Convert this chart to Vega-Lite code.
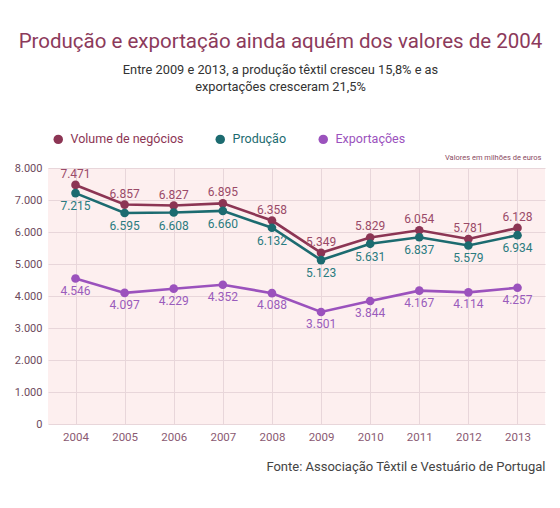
{
  "$schema": "https://vega.github.io/schema/vega-lite/v6.json",
  "width": 497,
  "height": 256,
  "autosize": {"type": "none"},
  "padding": {"left": 48, "top": 168, "right": 15, "bottom": 84},
  "background": "white",
  "config": {
    "font": "Roboto",
    "view": {"fill": "#fdefef", "stroke": null}
  },
  "title": {
    "text": "Produção e exportação ainda aquém dos valores de 2004",
    "subtitle": ["Entre 2009 e 2013, a produção têxtil cresceu 15,8% e as", "exportações cresceram 21,5%"],
    "anchor": "middle",
    "dx": -16,
    "font": "Roboto",
    "fontSize": 20.5,
    "fontWeight": "normal",
    "color": "#8c3a5b",
    "subtitleFont": "Roboto",
    "subtitleFontSize": 12.8,
    "subtitleColor": "#333333",
    "subtitleLineHeight": 17,
    "subtitlePadding": 12,
    "offset": 39
  },
  "data": {
    "values": [
      {"year": "2004", "series": "Volume de negócios", "value": 7471, "label": "7.471"},
      {"year": "2005", "series": "Volume de negócios", "value": 6857, "label": "6.857"},
      {"year": "2006", "series": "Volume de negócios", "value": 6827, "label": "6.827"},
      {"year": "2007", "series": "Volume de negócios", "value": 6895, "label": "6.895"},
      {"year": "2008", "series": "Volume de negócios", "value": 6358, "label": "6.358"},
      {"year": "2009", "series": "Volume de negócios", "value": 5349, "label": "5.349"},
      {"year": "2010", "series": "Volume de negócios", "value": 5829, "label": "5.829"},
      {"year": "2011", "series": "Volume de negócios", "value": 6054, "label": "6.054"},
      {"year": "2012", "series": "Volume de negócios", "value": 5781, "label": "5.781"},
      {"year": "2013", "series": "Volume de negócios", "value": 6128, "label": "6.128"},
      {"year": "2004", "series": "Produção", "value": 7215, "label": "7.215"},
      {"year": "2005", "series": "Produção", "value": 6595, "label": "6.595"},
      {"year": "2006", "series": "Produção", "value": 6608, "label": "6.608"},
      {"year": "2007", "series": "Produção", "value": 6660, "label": "6.660"},
      {"year": "2008", "series": "Produção", "value": 6132, "label": "6.132"},
      {"year": "2009", "series": "Produção", "value": 5123, "label": "5.123"},
      {"year": "2010", "series": "Produção", "value": 5631, "label": "5.631"},
      {"year": "2011", "series": "Produção", "value": 5837, "label": "6.837"},
      {"year": "2012", "series": "Produção", "value": 5579, "label": "5.579"},
      {"year": "2013", "series": "Produção", "value": 5900, "label": "6.934"},
      {"year": "2004", "series": "Exportações", "value": 4546, "label": "4.546"},
      {"year": "2005", "series": "Exportações", "value": 4097, "label": "4.097"},
      {"year": "2006", "series": "Exportações", "value": 4229, "label": "4.229"},
      {"year": "2007", "series": "Exportações", "value": 4352, "label": "4.352"},
      {"year": "2008", "series": "Exportações", "value": 4088, "label": "4.088"},
      {"year": "2009", "series": "Exportações", "value": 3501, "label": "3.501"},
      {"year": "2010", "series": "Exportações", "value": 3844, "label": "3.844"},
      {"year": "2011", "series": "Exportações", "value": 4167, "label": "4.167"},
      {"year": "2012", "series": "Exportações", "value": 4114, "label": "4.114"},
      {"year": "2013", "series": "Exportações", "value": 4257, "label": "4.257"}
    ]
  },
  "encoding": {
    "x": {
      "field": "year",
      "type": "ordinal",
      "scale": {"type": "point", "padding": 0.56},
      "axis": {
        "title": "Fonte: Associação Têxtil e Vestuário de Portugal",
        "titleAnchor": "end",
        "titleFont": "Roboto",
        "titleFontSize": 13,
        "titleFontWeight": "normal",
        "titleColor": "#444444",
        "titlePadding": 18,
        "labelAngle": 0,
        "labelFont": "Roboto",
        "labelFontSize": 11.5,
        "labelColor": "#8a5a72",
        "labelPadding": 7,
        "domain": false,
        "ticks": false,
        "grid": true,
        "gridColor": "#e8d6da",
        "gridWidth": 1
      }
    },
    "y": {
      "field": "value",
      "type": "quantitative",
      "scale": {"domain": [0, 8000], "nice": false},
      "axis": {
        "values": [0, 1000, 2000, 3000, 4000, 5000, 6000, 7000, 8000],
        "labelExpr": "replace(format(datum.value, ','), ',', '.')",
        "title": "Valores em milhões de euros",
        "titleAngle": 0,
        "titleX": 493,
        "titleY": -11,
        "titleAlign": "right",
        "titleBaseline": "middle",
        "titleFont": "Roboto",
        "titleFontSize": 7.5,
        "titleFontWeight": "normal",
        "titleColor": "#8a4a62",
        "labelFont": "Roboto",
        "labelFontSize": 11,
        "labelColor": "#6e4a5c",
        "labelPadding": 6,
        "domain": false,
        "ticks": false,
        "grid": true,
        "gridColor": "#e8d6da",
        "gridWidth": 1
      }
    },
    "color": {
      "field": "series",
      "type": "nominal",
      "scale": {
        "domain": ["Volume de negócios", "Produção", "Exportações"],
        "range": ["#8c3554", "#1c6b70", "#9b52bd"]
      },
      "legend": {
        "title": null,
        "orient": "none",
        "legendX": 4,
        "legendY": -35,
        "direction": "horizontal",
        "symbolType": "circle",
        "symbolSize": 90,
        "symbolOpacity": 1,
        "symbolStrokeWidth": 0,
        "labelFont": "Roboto",
        "labelFontSize": 12.5,
        "labelOffset": 6,
        "columnPadding": 30,
        "encode": {
          "symbols": {"update": {"fill": {"scale": "color", "field": "value"}, "opacity": {"value": 1}}},
          "labels": {"update": {"fill": {"scale": "color", "field": "value"}}}
        }
      }
    }
  },
  "layer": [
    {
      "mark": {"type": "line", "strokeWidth": 2.6}
    },
    {
      "mark": {"type": "circle", "size": 75, "opacity": 1}
    },
    {
      "transform": [{"filter": "datum.series == 'Volume de negócios'"}],
      "mark": {"type": "text", "dy": -11, "fontSize": 12, "font": "Roboto"},
      "encoding": {"text": {"field": "label"}, "color": {"value": "#9a4a68"}}
    },
    {
      "transform": [{"filter": "datum.series == 'Produção'"}],
      "mark": {"type": "text", "dy": 13, "fontSize": 12, "font": "Roboto"},
      "encoding": {"text": {"field": "label"}, "color": {"value": "#2a7b80"}}
    },
    {
      "transform": [{"filter": "datum.series == 'Exportações'"}],
      "mark": {"type": "text", "dy": 12, "fontSize": 12, "font": "Roboto"},
      "encoding": {"text": {"field": "label"}, "color": {"value": "#9a5cbc"}}
    }
  ]
}
